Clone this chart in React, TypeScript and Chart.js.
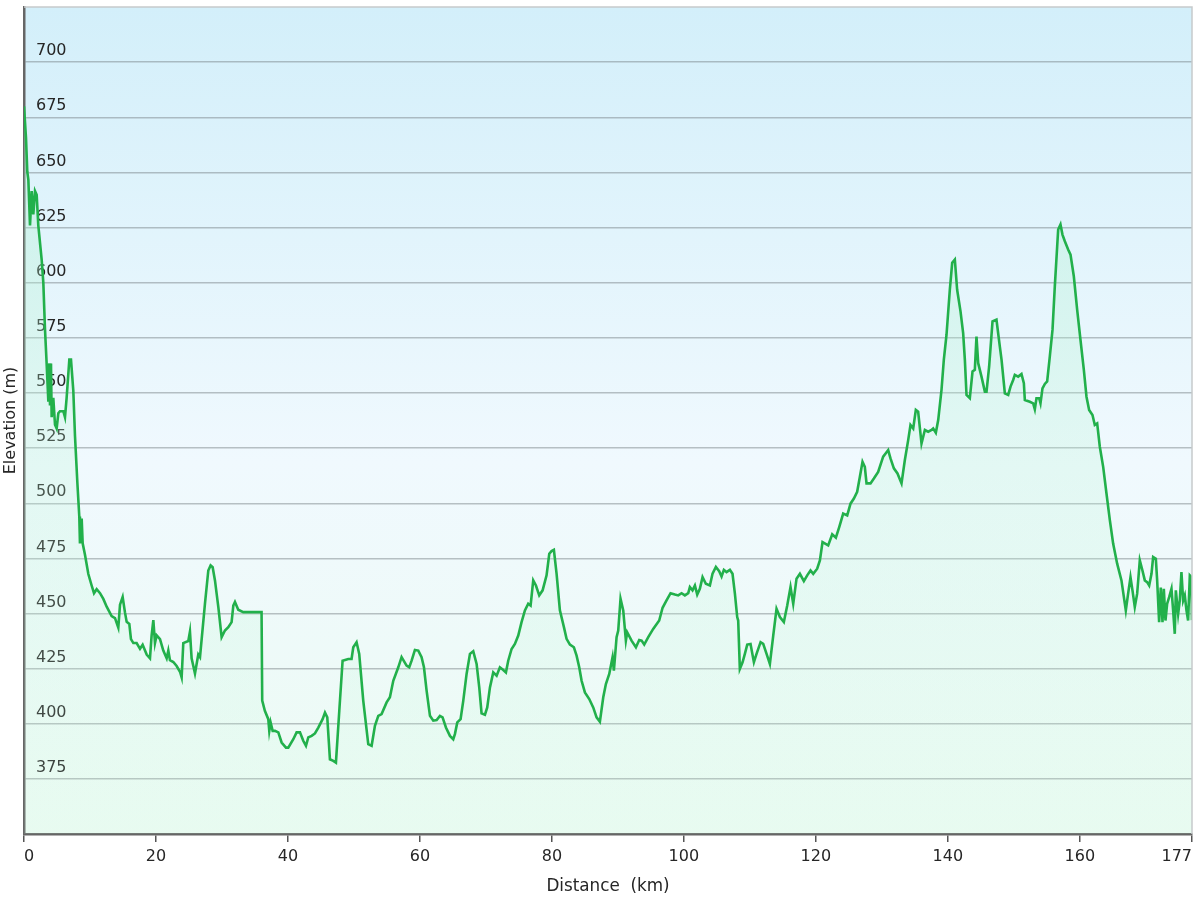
import React, { useEffect, useRef } from 'react';
import { Chart, registerables } from 'chart.js';

Chart.register(...registerables);

const distanceKm = [
  0, 0.3, 0.5, 0.66, 0.91, 1.16, 1.41, 1.67, 1.92, 2.17, 2.68, 2.93, 3.18, 3.43, 3.69, 3.84, 3.94, 4.09, 4.19, 4.44,
  4.7, 4.95, 5.2, 5.45, 5.96, 6.21, 6.46, 6.87, 7.12, 7.47, 7.73, 8.08, 8.38, 8.48, 8.74, 8.89, 9.24, 9.75, 10.25, 10.61,
  11.01, 11.52, 12.02, 12.53, 13.28, 13.79, 14.29, 14.55, 14.95, 15.3, 15.56, 15.96, 16.21, 16.57, 17.07, 17.58, 17.98, 18.59, 19.09, 19.34,
  19.6, 19.85, 20.1, 20.61, 21.11, 21.62, 21.87, 22.12, 22.63, 23.13, 23.64, 23.89, 24.14, 24.9, 25.15, 25.4, 25.91, 26.41,
  26.67, 27.42, 27.93, 28.28, 28.59, 28.94, 29.45, 29.95, 30.45, 30.96, 31.46, 31.72, 31.97, 32.47, 33.23, 36.0, 36.1, 36.5,
  37.02, 37.17, 37.37, 37.68, 38.03, 38.54, 39.04, 39.7, 40.05, 40.81, 41.31, 41.82, 42.32, 42.73, 43.08, 43.59, 44.09, 44.6,
  45.25, 45.61, 45.96, 46.36, 46.87, 47.27, 47.78, 48.28, 49.14, 49.64, 49.9, 50.4, 50.8, 51.41, 52.17, 52.68, 53.18, 53.69,
  54.19, 54.95, 55.45, 55.96, 56.72, 57.22,
  57.98, 58.38, 58.74, 59.24, 59.75, 60.25, 60.61, 61.01, 61.52, 62.02, 62.53, 63.03, 63.43, 63.94, 64.55, 65.05, 65.3, 65.66,
  66.16, 66.57, 67.07, 67.58, 68.08, 68.59, 68.99, 69.34, 69.85, 70.2, 70.61, 71.11, 71.62, 72.12, 72.63, 73.03, 73.38, 73.89,
  74.39, 74.9, 75.4, 75.91, 76.41, 76.77, 77.17, 77.58, 78.08, 78.59, 79.19, 79.6, 79.95, 80.3, 80.71, 81.21, 81.82, 82.22,
  82.73, 83.33, 83.74, 84.14, 84.5, 85.0, 85.66, 86.26, 86.77, 87.27,
  87.78, 88.18, 88.69, 89.19, 89.39, 89.8, 90.05, 90.4, 90.81, 91.21, 91.41, 92.07, 92.73, 93.23, 93.59, 93.99, 94.6, 95.35,
  96.26, 96.77, 97.37, 97.98, 98.64, 99.14, 99.65, 100.15, 100.66, 100.91, 101.31, 101.67, 102.02, 102.42, 102.83, 103.33, 103.94, 104.34,
  104.85, 105.35, 105.71, 106.06, 106.46, 106.97, 107.37, 107.73, 108.08, 108.23, 108.48, 108.89, 109.24, 109.6, 110.1, 110.61, 111.01, 111.62,
  112.02, 112.53, 113.03, 113.54, 114.04, 114.55, 115.15, 115.66, 116.16, 116.57, 117.07, 117.58,
  118.18, 118.69, 119.19, 119.6, 120.2, 120.61, 121.01, 121.87, 122.48, 123.03, 123.54, 124.14, 124.75, 125.25, 125.76, 126.26, 126.67, 127.07,
  127.42, 127.68, 128.28, 128.79, 129.44, 130.2, 130.96, 131.31, 131.82, 132.37, 132.98, 133.48, 133.99, 134.34, 134.75, 135.15, 135.5, 136.01,
  136.52, 137.02, 137.53, 137.78, 138.18, 138.54, 139.04, 139.39, 139.8, 140.3, 140.66, 141.06, 141.41, 141.92, 142.32, 142.58, 142.83, 143.33,
  143.74, 144.09, 144.34, 144.6, 145.1, 145.61, 145.86, 146.26, 146.77, 147.37,
  147.88, 148.14, 148.64, 149.15, 149.5, 149.9, 150.15, 150.66, 151.16, 151.52, 151.67, 152.42, 152.93, 153.18, 153.43, 153.84, 154.04, 154.34,
  154.7, 155.05, 155.45, 155.86, 156.21, 156.57, 156.72, 157.07, 157.37, 157.73, 158.23, 158.59, 159.09, 159.6, 160.1, 160.61, 161.01, 161.41,
  161.92, 162.27, 162.63, 163.03, 163.54, 164.04, 164.55, 165.05, 165.66, 166.31, 166.97, 167.32, 167.68, 167.98, 168.33, 168.69, 169.09, 169.49,
  169.85, 170.2, 170.51, 170.86, 171.11, 171.52, 171.72, 172.02, 172.27, 172.53, 172.73, 172.98, 173.23, 173.54, 173.89, 174.14, 174.39, 174.55,
  174.9, 175.15, 175.4, 175.66, 175.91, 176.16, 176.41, 176.67, 176.92, 177,
];

const elevationM = [
  680, 665.8, 650.2, 646.7, 625.9, 641.5, 631, 641.5, 639.8, 625.9, 610.3, 599.9, 579, 563.4, 546, 563.4, 544.3, 563.4, 539, 547.8,
  535.6, 533.9, 540.8, 541.7, 541.7, 539, 547.8, 565.1, 565.1, 551.2, 530.4, 509.6, 494, 481.8, 493, 481.8, 476.6, 467.9, 462.7, 459.2,
  461, 459.2, 456.6, 453.1, 448.8, 447.9, 443.6, 454, 457.5, 450.5, 446.2, 445.3, 438.4, 436.6, 436.6, 434, 435.8, 431.4, 429.7, 440.1,
  447, 436.6, 440.1, 438.4, 433.2, 429.7, 433.2, 428.8, 428, 426.2, 423.6, 421, 436.6, 437.5, 441.8, 429.7, 422.8, 431.4,
  430.2, 454.4, 469.5, 471.8, 471, 465, 452.9, 439.3, 442.3, 443.8, 446.1, 453.6, 455.2, 451.7, 450.6, 450.6, 410.5, 405.9,
  402.1, 396.8, 400.6, 396.8, 396.8, 396.1, 391.5, 389.2, 389.2, 393, 396.1, 396.1, 392.3, 390, 393.8, 394.5, 395.6, 398.3,
  402.1, 405.1, 402.9, 383.9, 383.2, 382.4, 405.9, 428.6, 429.4, 429.4, 434.7, 437, 431.7, 410.5, 390.8, 390, 399.1, 403.6,
  404.4, 409.7, 412, 419.5, 425.6, 430.2,
  426.4, 425.6, 428.6, 433.5, 433.2, 430.2, 425.6, 415, 403.6, 401.4, 401.7, 403.6, 402.9, 398.3, 394.5, 393, 395.3, 400.6,
  402.1, 410.5, 422.6, 431.7, 432.9, 427.1, 416.5, 404.7, 404.1, 407.4, 416.5, 423.3, 421.8, 425.6, 424.4, 423.3, 428.6, 433.9,
  436.2, 440, 446.1, 451.4, 454.4, 453.6, 465, 462.7, 458.2, 460.5, 467.3, 477.1, 478.3, 478.9, 468, 451.4, 443.8, 438.5,
  435.9, 434.7, 430.9, 425.6, 419.5, 414.2, 411.2, 407.4, 402.9, 400.9,
  412, 418, 422.6, 430.2, 424.1, 439.3, 442.3, 456.7, 451.4, 437.7, 441.5, 437.7, 434.7, 438, 437.7, 435.9, 439.3, 443,
  446.8, 452.6, 455.9, 459.2, 458.6, 458.2, 459.2, 458.2, 459.2, 462, 460.5, 462.7, 458.6, 461.2, 466.5, 463.5, 462.7, 468,
  471.1, 469.2, 466.8, 469.8, 468.8, 469.8, 468, 459, 448.4, 446.8, 424.9, 427.9, 431.7, 435.9, 436.2, 427.9, 431.7, 437,
  436.2, 431.7, 427.1, 440, 452.1, 448.4, 446.1, 453.6, 462, 454.4, 465.8, 468,
  464.7, 467.3, 469.5, 468, 470.3, 474.1, 482.4, 480.9, 485.9, 484.4, 489.2, 495.3, 494.5, 499.8, 502.1, 505.2, 512, 518.8,
  516.5, 509, 509, 511.2, 514.2, 521.1, 524.1, 520.3, 515.8, 513.5, 509, 519.5, 528.6, 535.5, 533.9, 542.3, 541.5, 527.1,
  533.2, 532.4, 533.2, 533.9, 532, 537.7, 551.4, 565, 576.4, 596.8, 609, 610.5, 596.8, 587, 577.1, 565, 549.1, 547.6,
  559.7, 560.5, 575.6, 563.5, 557.4, 550.6, 550.6, 562, 582.4, 583.2,
  571, 565, 549.8, 549.1, 552.9, 555.9, 558.2, 557.4, 558.6, 554.4, 546.8, 546, 545.3, 542.6, 547.6, 547.6, 545.3, 552.1,
  554.1, 555.2, 566.5, 578.6, 598.3, 616.5, 624.1, 626.4, 621.8, 618.8, 615, 612.7, 602.9, 587.7, 574.1, 560.5, 548.3, 542.3,
  540, 535.5, 536.2, 525.6, 516.5, 504.4, 492.3, 481.7, 472.6, 465, 451.4, 459, 466.5, 460.5, 453, 459, 474.1, 469.5,
  465, 464.2, 462.7, 468, 475.6, 474.8, 465, 446.1, 461.8, 446.1, 461.2, 446.8, 454.4, 457.4, 461.2, 451.4, 440.8, 460.5,
  449.8, 455.9, 468.8, 455.9, 458.2, 451.4, 446.8, 467.3, 466.5, 447,
];

const xTickValues = [0, 20, 40, 60, 80, 100, 120, 140, 160, 177];
const xAxisMin = 0;
const xAxisMax = 177;
const yAxisMin = 350;
const yAxisMax = 725;
const yTickStep = 25;
const yLabelMin = 375;
const yLabelMax = 700;
const xTitle = 'Distance  (km)';
const yTitle = 'Elevation (m)';

export default function App() {
  const ref = useRef<HTMLCanvasElement | null>(null);

  useEffect(() => {
    const canvas = ref.current;
    if (!canvas) return;
    const fontFamily = '"DejaVu Sans", Verdana, sans-serif';
    const font = { family: fontFamily, size: 16 };
    const textColor = '#262626';

    const plotFrame = {
      id: 'plotFrame',
      beforeDraw(chart: any) {
        const { ctx, chartArea: a } = chart;
        const g = ctx.createLinearGradient(0, a.top, 0, a.bottom);
        g.addColorStop(0, '#d3effa');
        g.addColorStop(0.55, '#f0f9fe');
        g.addColorStop(1, '#ecfbf3');
        ctx.save();
        ctx.fillStyle = g;
        ctx.fillRect(a.left, a.top, a.right - a.left, a.bottom - a.top);
        ctx.restore();
      },
      beforeDatasetsDraw(chart: any) {
        // inside-plot y tick labels, placed just above each gridline
        const { ctx, chartArea: a } = chart;
        const yScale = chart.scales.y;
        ctx.save();
        ctx.font = `16px ${fontFamily}`;
        ctx.fillStyle = textColor;
        ctx.textAlign = 'left';
        ctx.textBaseline = 'middle';
        yScale.ticks.forEach((t: any) => {
          if (t.value < yLabelMin || t.value > yLabelMax) return;
          const py = yScale.getPixelForValue(t.value);
          ctx.fillText(String(t.value), a.left + 12, py - 11);
        });
        ctx.restore();
      },
      afterDraw(chart: any) {
        const { ctx, chartArea: a } = chart;
        ctx.save();
        ctx.strokeStyle = '#c6cacc';
        ctx.lineWidth = 1.5;
        ctx.beginPath();
        ctx.moveTo(a.left, a.top);
        ctx.lineTo(a.right, a.top);
        ctx.lineTo(a.right, a.bottom);
        ctx.stroke();
        ctx.restore();
      },
    };

    const chart = new Chart(canvas, {
      type: 'line',
      data: {
        datasets: [
          {
            data: distanceKm.map((d, i) => ({ x: d, y: elevationM[i] })),
            borderColor: '#22b04b',
            borderWidth: 2.6,
            pointRadius: 0,
            tension: 0,
            fill: 'start',
            backgroundColor: (c: any) => {
              const a = c.chart.chartArea;
              if (!a) return 'rgba(180,240,205,0.3)';
              const g = c.chart.ctx.createLinearGradient(0, a.top, 0, a.bottom);
              g.addColorStop(0, 'rgba(165,238,200,0.38)');
              g.addColorStop(1, 'rgba(200,250,220,0.12)');
              return g;
            },
          },
        ],
      },
      options: {
        responsive: false,
        animation: false,
        layout: { padding: { left: 0.8, top: 7, right: 8, bottom: 1.6 } },
        plugins: { legend: { display: false }, tooltip: { enabled: false } },
        scales: {
          x: {
            type: 'linear',
            min: xAxisMin,
            max: xAxisMax,
            afterBuildTicks: (s: any) => {
              s.ticks = xTickValues.map((v) => ({ value: v }));
            },
            ticks: {
              align: 'inner',
              autoSkip: false,
              maxRotation: 0,
              font,
              color: textColor,
              padding: 5,
              callback: (v: any) => String(v),
            },
            grid: { drawOnChartArea: false, drawTicks: true, tickLength: 8, color: '#555', lineWidth: 1.5 },
            border: { color: '#666', width: 2.5 },
            title: { display: true, text: xTitle, font: { family: fontFamily, size: 16.8 }, color: textColor, padding: { top: 5, bottom: 2 } },
          },
          y: {
            type: 'linear',
            min: yAxisMin,
            max: yAxisMax,
            ticks: { stepSize: yTickStep, display: false },
            grid: {
              drawTicks: false,
              lineWidth: 1.4,
              color: (c: any) =>
                c.tick && c.tick.value >= yLabelMin && c.tick.value <= yLabelMax ? 'rgba(110,120,125,0.45)' : 'rgba(0,0,0,0)',
            },
            border: { color: '#666', width: 2.5 },
            title: { display: true, text: yTitle, font, color: textColor, padding: { top: 0, bottom: 4 } },
          },
        },
      },
      plugins: [plotFrame],
    } as any);

    return () => chart.destroy();
  }, []);

  return (
    <div style={{ position: 'fixed', left: 0, top: 0, width: 1200, height: 900, background: '#fff' }}>
      <canvas ref={ref} width={1200} height={900} />
    </div>
  );
}
